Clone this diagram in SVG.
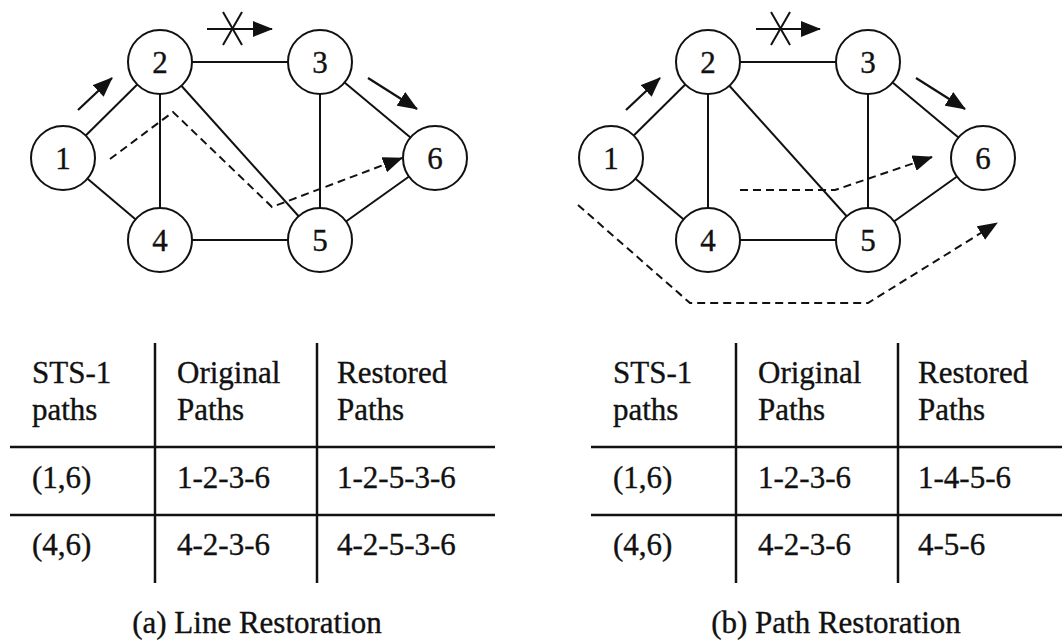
<svg xmlns="http://www.w3.org/2000/svg" width="1062" height="641" viewBox="0 0 1062 641">
  <style>
    .edge { stroke: #111; stroke-width: 2; fill: none; }
    .flow { stroke: #111; stroke-width: 2.2; fill: none; marker-end: url(#head); }
    .alt { stroke: #111; stroke-width: 2; fill: none; stroke-dasharray: 8 5; marker-end: url(#head); }
    .cut { stroke: #111; stroke-width: 2; }
    .node circle { fill: #fff; stroke: #111; stroke-width: 2; }
    .node text, .cell, .caption { font-family: "Liberation Serif", "Times New Roman", serif; font-size: 31px; fill: #111; stroke: #111; stroke-width: 0.35; }
    .node text { text-anchor: middle; }
    .caption { text-anchor: middle; }
    .rule { stroke: #111; stroke-width: 2.5; }
  </style>
  <defs>
    <marker id="head" markerUnits="userSpaceOnUse" markerWidth="20" markerHeight="16" viewBox="0 0 20 16" refX="19" refY="8" orient="auto">
      <path d="M0,0 L20,8 L0,16 z" fill="#111" stroke="none"/>
    </marker>
  </defs>
  <rect width="1062" height="641" fill="#fff"/>

  <!-- (a) line restoration network -->
  <g id="net-a">
    <g id="connectors-a">
      <line class="edge" x1="63" y1="158" x2="160" y2="62"/>
      <line class="edge" x1="63" y1="158" x2="160" y2="240"/>
      <line class="edge" x1="160" y1="62" x2="320" y2="62"/>
      <line class="edge" x1="160" y1="62" x2="160" y2="240"/>
      <line class="edge" x1="160" y1="62" x2="320" y2="240"/>
      <line class="edge" x1="320" y1="62" x2="320" y2="240"/>
      <line class="edge" x1="320" y1="62" x2="435" y2="158"/>
      <line class="edge" x1="160" y1="240" x2="320" y2="240"/>
      <line class="edge" x1="320" y1="240" x2="435" y2="158"/>
      <!-- traffic direction and failed span -->
      <line class="flow" x1="78" y1="110" x2="112" y2="78"/>
      <line class="flow" x1="207" y1="29" x2="272" y2="29"/>
      <line class="cut" x1="223" y1="12" x2="242" y2="45"/>
      <line class="cut" x1="242" y1="12" x2="223" y2="45"/>
      <line class="flow" x1="368" y1="78" x2="417" y2="109"/>
      <!-- restored route -->
      <polyline class="alt" points="110,159 173,112 272,207 402,158"/>
    </g>
    <g id="a-n1" class="node"><circle cx="63" cy="158" r="32"/><text x="63" y="169">1</text></g>
    <g id="a-n2" class="node"><circle cx="160" cy="62" r="32"/><text x="160" y="73">2</text></g>
    <g id="a-n3" class="node"><circle cx="320" cy="62" r="32"/><text x="320" y="73">3</text></g>
    <g id="a-n4" class="node"><circle cx="160" cy="240" r="32"/><text x="160" y="251">4</text></g>
    <g id="a-n5" class="node"><circle cx="320" cy="240" r="32"/><text x="320" y="251">5</text></g>
    <g id="a-n6" class="node"><circle cx="435" cy="158" r="32"/><text x="435" y="169">6</text></g>
  </g>

  <!-- (b) path restoration network -->
  <g id="net-b" transform="translate(548,0)">
    <g id="connectors-b">
      <line class="edge" x1="63" y1="158" x2="160" y2="62"/>
      <line class="edge" x1="63" y1="158" x2="160" y2="240"/>
      <line class="edge" x1="160" y1="62" x2="320" y2="62"/>
      <line class="edge" x1="160" y1="62" x2="160" y2="240"/>
      <line class="edge" x1="160" y1="62" x2="320" y2="240"/>
      <line class="edge" x1="320" y1="62" x2="320" y2="240"/>
      <line class="edge" x1="320" y1="62" x2="435" y2="158"/>
      <line class="edge" x1="160" y1="240" x2="320" y2="240"/>
      <line class="edge" x1="320" y1="240" x2="435" y2="158"/>
      <line class="flow" x1="78" y1="110" x2="112" y2="78"/>
      <line class="flow" x1="208" y1="29" x2="272" y2="29"/>
      <line class="cut" x1="223" y1="12" x2="242" y2="45"/>
      <line class="cut" x1="242" y1="12" x2="223" y2="45"/>
      <line class="flow" x1="368" y1="78" x2="417" y2="109"/>
      <!-- end-to-end restored routes -->
      <polyline class="alt" points="192,190 287,190 384,157"/>
      <polyline class="alt" points="30,205 142,303 320,303 449,223"/>
    </g>
    <g id="b-n1" class="node"><circle cx="63" cy="158" r="32"/><text x="63" y="169">1</text></g>
    <g id="b-n2" class="node"><circle cx="160" cy="62" r="32"/><text x="160" y="73">2</text></g>
    <g id="b-n3" class="node"><circle cx="320" cy="62" r="32"/><text x="320" y="73">3</text></g>
    <g id="b-n4" class="node"><circle cx="160" cy="240" r="32"/><text x="160" y="251">4</text></g>
    <g id="b-n5" class="node"><circle cx="320" cy="240" r="32"/><text x="320" y="251">5</text></g>
    <g id="b-n6" class="node"><circle cx="435" cy="158" r="32"/><text x="435" y="169">6</text></g>
  </g>

  <!-- (a) table -->
  <g id="table-a">
    <line class="rule" x1="10" y1="447" x2="495" y2="447"/>
    <line class="rule" x1="10" y1="515" x2="495" y2="515"/>
    <line class="rule" x1="155" y1="343" x2="155" y2="583"/>
    <line class="rule" x1="317" y1="343" x2="317" y2="583"/>
    <text class="cell" x="32" y="383">STS-1</text>
    <text class="cell" x="32" y="420">paths</text>
    <text class="cell" x="177" y="383">Original</text>
    <text class="cell" x="177" y="420">Paths</text>
    <text class="cell" x="337" y="383">Restored</text>
    <text class="cell" x="337" y="420">Paths</text>
    <text class="cell" x="32" y="488">(1,6)</text>
    <text class="cell" x="177" y="488">1-2-3-6</text>
    <text class="cell" x="337" y="488">1-2-5-3-6</text>
    <text class="cell" x="32" y="555">(4,6)</text>
    <text class="cell" x="177" y="555">4-2-3-6</text>
    <text class="cell" x="337" y="555">4-2-5-3-6</text>
    <text class="caption" x="257" y="633">(a) Line Restoration</text>
  </g>

  <!-- (b) table -->
  <g id="table-b" transform="translate(581,0)">
    <line class="rule" x1="10" y1="447" x2="495" y2="447"/>
    <line class="rule" x1="10" y1="515" x2="495" y2="515"/>
    <line class="rule" x1="155" y1="343" x2="155" y2="583"/>
    <line class="rule" x1="317" y1="343" x2="317" y2="583"/>
    <text class="cell" x="32" y="383">STS-1</text>
    <text class="cell" x="32" y="420">paths</text>
    <text class="cell" x="177" y="383">Original</text>
    <text class="cell" x="177" y="420">Paths</text>
    <text class="cell" x="337" y="383">Restored</text>
    <text class="cell" x="337" y="420">Paths</text>
    <text class="cell" x="32" y="488">(1,6)</text>
    <text class="cell" x="177" y="488">1-2-3-6</text>
    <text class="cell" x="337" y="488">1-4-5-6</text>
    <text class="cell" x="32" y="555">(4,6)</text>
    <text class="cell" x="177" y="555">4-2-3-6</text>
    <text class="cell" x="337" y="555">4-5-6</text>
    <text class="caption" x="255" y="633">(b) Path Restoration</text>
  </g>
</svg>
